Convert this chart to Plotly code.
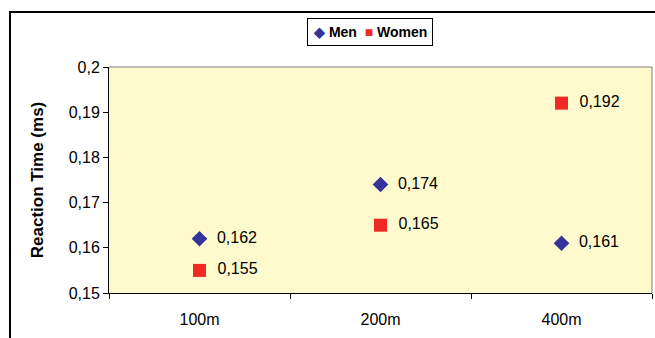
import plotly.graph_objects as go

categories = ["100m", "200m", "400m"]
men = [0.162, 0.174, 0.161]
women = [0.155, 0.165, 0.192]
ytick_vals = [0.15, 0.16, 0.17, 0.18, 0.19, 0.2]
ytick_text = ["0,15", "0,16", "0,17", "0,18", "0,19", "0,2"]

def fmt(v):
    return "  " + f"{v:.3f}".replace(".", ",")

FONT = "Arial, Liberation Sans, sans-serif"
MEN_C = "#333399"
WOMEN_C = "#EE2A22"

fig = go.Figure()
fig.add_trace(go.Scatter(
    x=categories, y=men, mode="markers+text", name="Men",
    marker=dict(symbol="diamond", size=12, color=MEN_C),
    text=[fmt(v) for v in men], textposition="middle right",
    textfont=dict(family=FONT, size=16, color="black"),
    showlegend=False, cliponaxis=False))
fig.add_trace(go.Scatter(
    x=categories, y=women, mode="markers+text", name="Women",
    marker=dict(symbol="square", size=13, color=WOMEN_C),
    text=[fmt(v) for v in women], textposition="middle right",
    textfont=dict(family=FONT, size=16, color="black"),
    showlegend=False, cliponaxis=False))

L, R, T, B = 109, 3, 67, 45
W, H = 655, 338
pw, ph = W - L - R, H - T - B

def px(x):
    return (x - L) / pw

def py(y):
    return (H - B - y) / ph

legend_text = (f"<span style='color:{MEN_C}'>◆</span> Men  "
               f"<span style='color:{WOMEN_C}'>■</span> Women")

fig.update_layout(
    width=W, height=H,
    margin=dict(l=L, r=R, t=T, b=B, pad=0),
    paper_bgcolor="white",
    plot_bgcolor="#FFFACD",
    font=dict(family=FONT, size=16, color="black"),
    separators=",.",
    showlegend=False,
    xaxis=dict(type="category", tickson="boundaries", ticks="outside", ticklen=5,
               tickcolor="black", showline=True, linecolor="black", linewidth=1,
               showgrid=False, zeroline=False, range=[-0.5, 2.5],
               tickfont=dict(size=16), ticklabelstandoff=12),
    yaxis=dict(range=[0.15, 0.2], tickvals=ytick_vals, ticktext=ytick_text,
               ticks="outside", ticklen=5, tickcolor="black",
               showline=True, linecolor="black", linewidth=1,
               showgrid=False, zeroline=False, tickfont=dict(size=16),
               title=dict(text="Reaction Time (ms)", standoff=20,
                          font=dict(size=17, weight="bold"))),
    annotations=[
        dict(text=legend_text, xref="paper", yref="paper",
             x=px(369.5), y=py(31.5), xanchor="center", yanchor="middle",
             showarrow=False, bordercolor="black", borderwidth=1, borderpad=5,
             bgcolor="white",
             font=dict(family=FONT, size=14, color="black", weight="bold")),
    ],
    shapes=[
        # plot-area border (top and right, gray)
        dict(type="line", xref="paper", yref="paper", x0=0, x1=1, y0=1, y1=1,
             line=dict(color="#808080", width=1)),
        dict(type="line", xref="paper", yref="paper", x0=1, x1=1, y0=0, y1=1,
             line=dict(color="#808080", width=1)),
        # chart outer border (clipped at right and bottom)
        dict(type="rect", xref="paper", yref="paper",
             x0=px(10), x1=px(670), y0=py(350), y1=py(12),
             line=dict(color="black", width=2), layer="above"),
    ],
)

fig.write_html("out.html", config={"displayModeBar": False})
with open("out.html", encoding="utf-8") as f:
    html = f.read()
html = html.replace("<head>", "<head><style>html,body{margin:0;padding:0;overflow:hidden}</style>", 1)
with open("out.html", "w", encoding="utf-8") as f:
    f.write(html)
